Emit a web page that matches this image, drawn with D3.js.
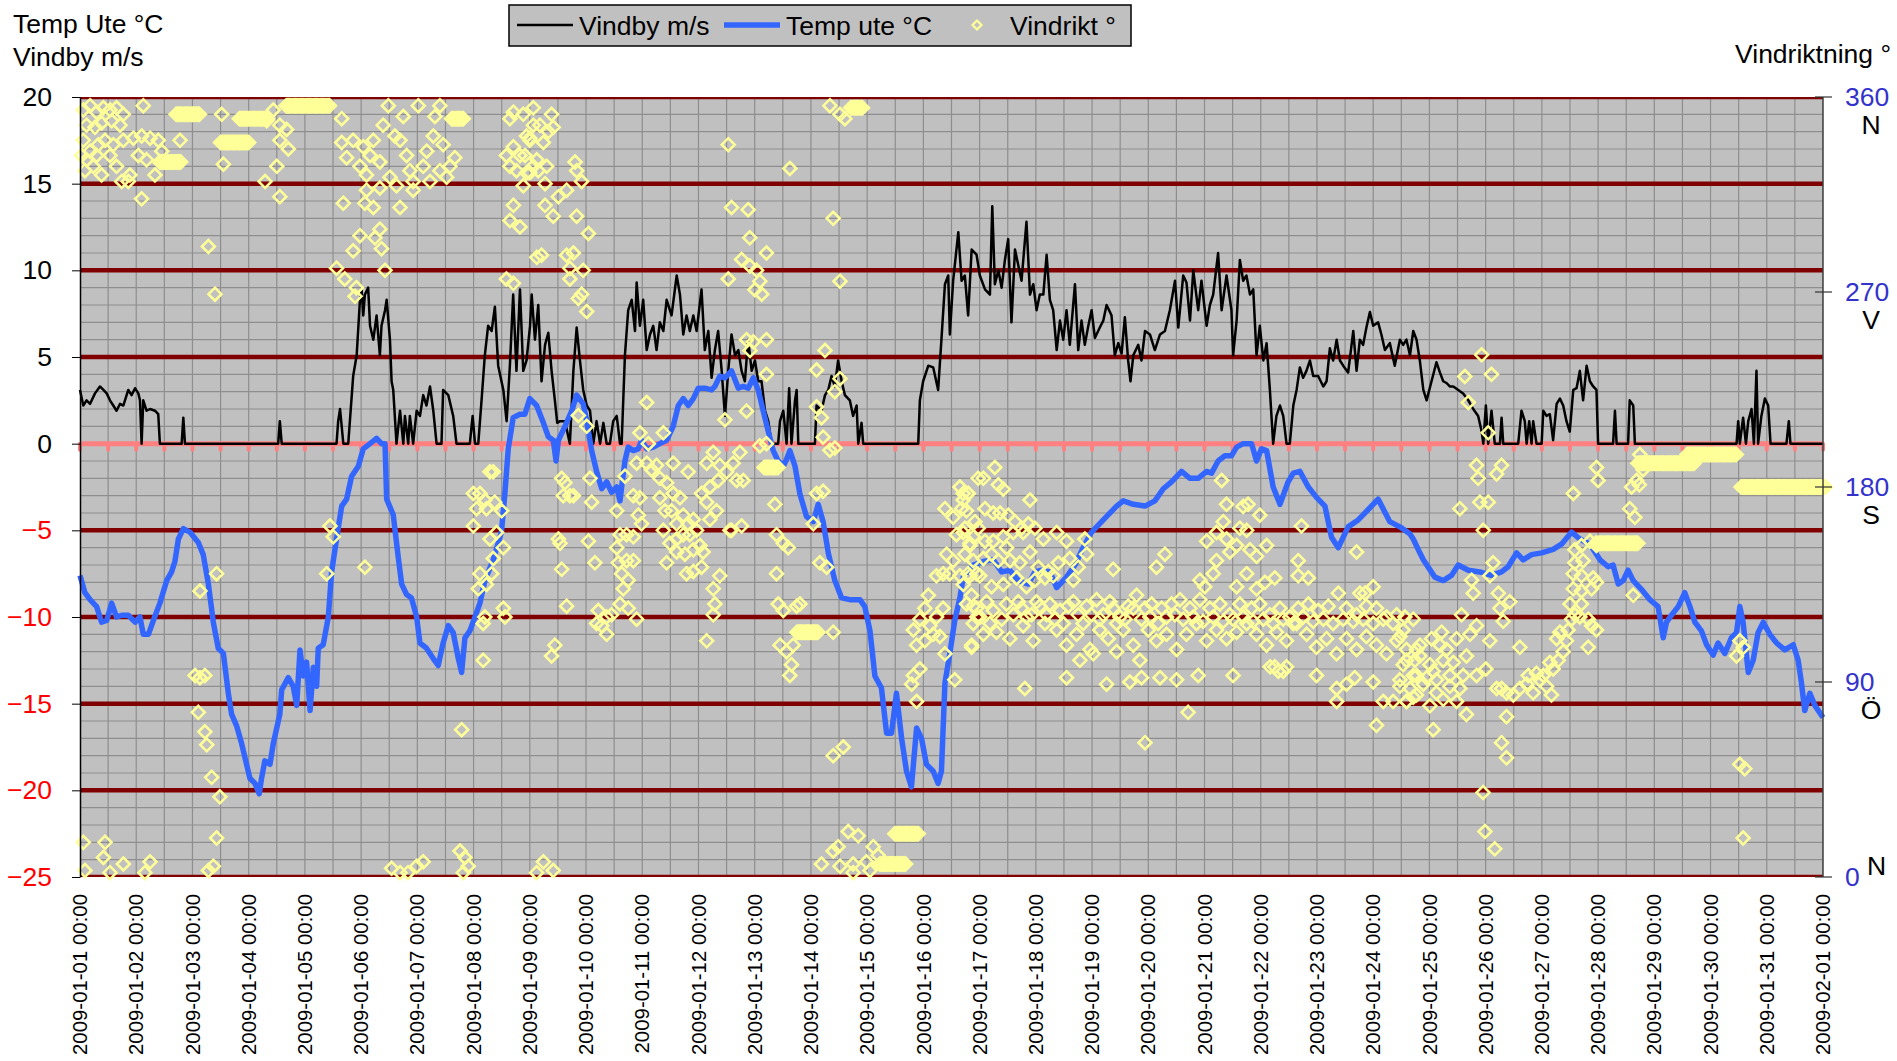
<!DOCTYPE html>
<html>
<head>
<meta charset="utf-8">
<script src="https://cdn.jsdelivr.net/npm/d3@7"></script>
<style>
body { margin: 0; background: #fff; }
text { font-family: "Liberation Sans", Arial, sans-serif; }
</style>
</head>
<body>
<script>
// hours after 2009-01-01 00:00, value
var tempUte = [[0,-7.6],[2.1,-8.6],[4.3,-9.0],[7.1,-9.4],[9.2,-10.3],[11.4,-10.2],[13.5,-9.2],[15.6,-10.0],[17.8,-9.9],[20.6,-9.9],[23.5,-10.3],[25.6,-10.0],[27,-11.0],[29.2,-11.0],[31.3,-10.2],[34.1,-9.2],[37,-7.9],[39.1,-7.4],[40.5,-6.8],[42,-5.5],[44.1,-4.9],[46.9,-5.1],[50.5,-5.7],[52.6,-6.4],[54.8,-8.1],[56.9,-10.3],[59,-11.8],[61.2,-12.1],[63.3,-14.4],[64.7,-15.6],[66.9,-16.3],[69,-17.3],[71.1,-18.5],[72.5,-19.3],[74.7,-19.6],[76.5,-20.2],[77.5,-19.3],[78.9,-18.3],[81.1,-18.5],[82.5,-17.3],[85.3,-15.6],[86.1,-14.2],[88.9,-13.5],[91,-14.0],[92.5,-15.1],[93.9,-11.9],[95.3,-13.4],[96.7,-12.6],[98.2,-15.4],[99.6,-12.9],[101,-14.0],[101.7,-11.8],[103.8,-11.6],[106,-10.0],[107.4,-7.4],[109.5,-5.5],[111.7,-3.6],[113.8,-3.2],[115.9,-1.9],[118.8,-1.3],[120.9,-0.3],[123.8,0],[126.6,0.3],[128.7,0],[130.2,0],[130.9,-3.2],[133.7,-4.1],[135.8,-6.5],[137.3,-8.1],[139.4,-8.7],[141.5,-8.9],[143.7,-10.0],[145.1,-11.5],[147.9,-11.8],[150.8,-12.4],[152.9,-12.8],[155,-11.5],[157.2,-10.5],[159.3,-10.9],[161.5,-12.4],[162.9,-13.2],[164.3,-11.2],[166.4,-10.8],[168.6,-10.0],[170.7,-9.2],[172.8,-7.9],[176.4,-6.7],[179.9,-5.1],[181.4,-2.8],[182.8,-0.3],[184.9,1.5],[187.8,1.7],[189.9,1.7],[192,2.6],[194.9,2.2],[197.8,1.2],[199.9,0.4],[202,0.2],[203.2,-1.0],[204.2,0.2],[207,1.0],[209.9,1.9],[212,2.8],[214.8,2.3],[216.3,1.3],[218.4,-0.4],[220.5,-1.6],[222.7,-2.6],[224.8,-2.2],[226.9,-2.8],[229.1,-2.5],[230.5,-3.3],[231.2,-2.5],[232.6,-1.0],[234,-0.2],[236.2,-0.4],[238.3,-0.3],[239.7,0.2],[241.9,-0.3],[244.7,-0.2],[247.5,0],[250.4,0.2],[253.2,1.0],[255.4,2.2],[257.5,2.6],[259.6,2.2],[261.8,2.6],[263.9,3.2],[266.7,3.2],[269.6,3.1],[271,3.3],[273.1,3.9],[275.3,3.8],[278.1,4.2],[281,3.2],[283.1,3.3],[285.2,3.2],[287.4,3.8],[289.5,3.1],[291.6,1.9],[293.8,0.7],[295.9,-0.4],[298,-1.0],[300.2,-1.3],[301.6,-0.9],[303,-0.4],[305.2,-1.3],[307.3,-2.9],[310.1,-4.2],[313,-4.5],[315.1,-3.5],[317.2,-4.5],[319.4,-6.3],[322.2,-7.9],[325.1,-8.9],[328.6,-9.0],[332.9,-9.0],[335,-9.4],[337.2,-10.8],[339.3,-13.4],[342.1,-14.1],[344.3,-16.7],[346.4,-16.7],[348.5,-14.4],[350.7,-17.0],[352.8,-18.9],[354.9,-19.8],[357.1,-16.4],[359.2,-17.0],[361.3,-18.5],[364.2,-18.9],[366.3,-19.6],[367.7,-18.9],[369.2,-13.8],[371.3,-12.1],[373.4,-10.2],[375.6,-8.9],[377,-7.7],[381.3,-7.0],[385.6,-6.8],[389.8,-6.7],[393.4,-7.4],[396.9,-7.3],[400.5,-7.9],[404.8,-8.1],[407.6,-7.4],[410.5,-7.3],[414,-7.4],[416.9,-8.3],[421.1,-7.7],[424.7,-7.0],[428.2,-6.0],[431.8,-5.1],[436.8,-4.4],[442.5,-3.6],[445.3,-3.3],[449.6,-3.5],[454.6,-3.6],[458.8,-3.3],[462.4,-2.6],[465.9,-2.2],[470.2,-1.6],[473.8,-2.0],[477.3,-2.0],[480.9,-1.6],[483,-1.7],[485.8,-1.0],[488.7,-0.7],[491.5,-0.7],[493.7,-0.2],[496.5,0],[500.1,0],[502.2,-1.0],[504.3,-0.3],[506.5,-0.4],[509.3,-2.5],[512.2,-3.5],[515.7,-2.2],[517.9,-1.7],[520.7,-1.6],[524.3,-2.5],[527.8,-3.1],[531.4,-3.6],[534.2,-5.4],[537.1,-6.0],[541.3,-4.8],[545.6,-4.4],[549.9,-3.8],[554.1,-3.2],[559.1,-4.5],[563.4,-4.8],[567.6,-5.2],[569.1,-5.5],[571.9,-6.3],[573.4,-6.7],[578.3,-7.7],[581.9,-7.9],[585.4,-7.6],[588.3,-7.0],[592.6,-7.3],[597.5,-7.4],[602.5,-7.6],[606.8,-7.4],[609.6,-7.1],[613.2,-6.3],[616,-6.7],[619.6,-6.4],[623.9,-6.3],[628.8,-6.1],[632.4,-5.8],[636.7,-5.1],[640.2,-5.5],[644.5,-5.8],[648.8,-6.7],[652.3,-7.1],[654.4,-7.0],[656.6,-8.1],[658.7,-7.9],[660.8,-7.3],[663,-7.9],[666.5,-8.4],[670.1,-9.0],[673.6,-9.4],[675.8,-11.2],[677.2,-10.3],[679.3,-9.9],[682.2,-9.4],[685,-8.6],[687.2,-9.4],[689.3,-10.3],[692.1,-10.8],[694.3,-11.6],[697.1,-12.2],[699.2,-11.5],[702.1,-12.1],[704.9,-11.2],[707.1,-10.9],[708.5,-9.4],[709.9,-10.3],[712.1,-13.2],[714.2,-12.5],[716.3,-10.9],[718.5,-10.3],[721.3,-11.0],[724.2,-11.5],[727.7,-11.9],[731.3,-11.6],[733.4,-12.5],[734.8,-13.8],[736.2,-15.4],[738.4,-14.4],[740.5,-15.1],[744,-15.8]];

var vindby = [[0,3.1],[1.4,2.2],[2.8,2.5],[4.3,2.3],[6.4,2.9],[8.5,3.3],[10,3.1],[11.4,2.9],[12.8,2.5],[14.2,2.2],[15.6,1.9],[17.1,2.3],[18.5,2.2],[20.6,3.1],[22,2.8],[23.5,3.2],[24.9,2.9],[25.6,2.5],[26.3,0],[27,2.5],[28.4,1.9],[29.9,2.0],[32,1.9],[33.4,1.7],[34.1,0],[43.4,0],[44.1,1.5],[44.8,0],[84.6,0],[85.3,1.3],[86.1,0],[109.5,0],[110.2,1.3],[111,2.0],[112.4,0],[114.5,0],[115.2,1.3],[116.6,3.9],[118.1,5.1],[119.5,8.3],[120.2,8.9],[120.9,7.4],[121.6,8.6],[123,9.0],[123.8,6.8],[125.2,6.0],[126.6,7.4],[128,5.1],[128.7,6.8],[130.2,7.7],[130.9,8.3],[132.3,6.0],[133,3.6],[133.7,3.1],[135.1,0],[136.6,1.9],[138,0],[138.7,1.6],[140.1,0],[140.8,1.6],[142.2,0],[143.7,1.9],[145.1,1.6],[146.5,2.8],[147.9,2.2],[149.4,3.3],[150.8,1.9],[152.2,0],[154.3,0],[155,3.1],[157.2,2.8],[159.3,1.6],[160.7,0],[166.4,0],[167.6,1.6],[168.6,0],[170,0],[171.4,2.5],[172.8,5.1],[174.2,6.8],[175.7,6.5],[177.1,7.9],[178.5,4.5],[180.7,3.1],[182.1,1.3],[183.5,4.5],[184.9,8.6],[186.3,4.2],[187.8,8.9],[189.2,4.2],[190.6,4.8],[192.1,6.8],[192.8,8.6],[194.2,6.0],[195.6,8.0],[197,3.6],[198.5,5.7],[199.9,6.4],[201.3,4.2],[202.7,2.5],[203.7,1.2],[204.9,1.3],[207,1.3],[209.1,0],[210.6,4.2],[212,6.7],[213.4,4.8],[214.8,3.1],[216.3,2.2],[217.7,1.9],[219.1,0],[220.5,1.3],[222,0],[223.4,1.2],[224.8,0],[226.2,0],[227.6,1.3],[229.1,1.6],[230.5,0],[231.2,0],[232.6,5.1],[234,7.7],[235.5,8.3],[236.9,6.5],[237.6,9.3],[239,6.8],[240.4,8.3],[241.9,5.4],[243.3,6.3],[244.7,6.8],[246.1,5.4],[247.5,7.0],[249,6.5],[250.4,8.3],[252.5,7.4],[254.7,9.7],[256.1,8.6],[257.5,6.3],[258.9,7.4],[260.3,6.5],[261.8,7.4],[263.2,6.5],[265.3,8.9],[266.7,5.4],[268.2,6.5],[269.6,3.8],[271,5.4],[272.4,6.5],[273.9,4.2],[275.3,1.6],[276.7,4.2],[278.1,6.3],[279.6,5.1],[281,5.4],[282.4,4.2],[283.8,3.6],[285.2,6.0],[286.7,4.2],[288.1,4.8],[289.5,3.6],[290.9,3.6],[292.4,1.9],[293.8,1.3],[295.2,0],[298,0],[298.8,1.3],[300.2,1.9],[301.6,0],[302.7,3.2],[303.7,0],[305.2,2.5],[305.9,3.1],[306.6,0],[313.7,0],[314.4,2.2],[316.5,1.9],[318,2.8],[319.4,3.1],[320.8,3.9],[322.2,3.3],[323.6,4.8],[325.1,3.6],[326.5,2.8],[328.6,2.5],[330,1.6],[331.5,2.2],[332.2,0],[333.6,1.2],[334.3,0],[357.8,0],[358.5,2.5],[359.9,3.6],[362.1,4.5],[364.2,4.4],[366.3,3.1],[367.7,6.0],[369.2,9.2],[370.6,9.7],[371.3,6.3],[372.7,9.4],[374.9,12.2],[376.3,9.4],[377.7,9.7],[379.1,7.4],[380.6,11.2],[382.7,10.9],[384.1,9.7],[386.3,8.9],[388.4,8.6],[389.4,13.7],[390.5,9.2],[392,10.0],[393.4,9.0],[394.8,10.6],[396.2,11.8],[397.6,7.0],[399.1,11.2],[400.5,10.3],[401.9,9.4],[404,12.8],[405.5,8.6],[406.9,9.2],[408.3,7.7],[409.7,8.6],[411.2,8.6],[412.6,10.9],[414,8.3],[415.4,7.7],[416.9,5.4],[418.3,7.1],[419.7,6.0],[421.1,7.7],[422.5,5.7],[424.7,9.2],[426.1,5.4],[427.5,7.1],[428.9,5.7],[430.4,6.8],[431.8,7.7],[433.2,6.1],[435.3,6.7],[436.8,7.1],[438.2,8.0],[440.3,7.4],[441.7,5.1],[443.2,5.8],[444.6,5.2],[446,7.3],[447.4,4.8],[448.4,3.6],[449.6,5.1],[451.7,5.7],[453.1,4.8],[454.6,6.5],[456.7,6.3],[458.8,5.4],[461,6.3],[463.1,6.5],[465.2,7.7],[467.4,9.4],[468.8,6.7],[470.9,9.7],[472.3,9.3],[473.8,7.1],[475.2,10.0],[477.3,7.7],[478.7,9.4],[480.9,6.8],[482.3,8.0],[483.7,8.6],[485.8,11.0],[487.3,7.7],[489.4,9.7],[491.5,7.7],[492.2,5.1],[493.7,7.1],[495.1,10.6],[496.5,9.4],[497.9,9.7],[499.4,8.6],[500.8,8.9],[502.2,5.1],[503.6,6.8],[505.1,4.8],[506.5,5.8],[507.9,3.1],[509.3,0],[510.7,1.6],[512.2,2.2],[513.6,1.6],[515,0],[516.4,0],[517.9,2.2],[519.3,3.1],[520.7,4.4],[522.1,3.8],[523.5,4.2],[525,4.8],[526.4,3.9],[528.5,3.9],[530.7,3.3],[532.1,3.6],[533.5,5.5],[534.9,4.8],[536.4,6.0],[537.8,4.8],[539.2,4.5],[541.3,4.1],[543.5,6.5],[544.9,4.2],[546.3,6.0],[547.7,5.7],[549.1,6.7],[550.6,7.6],[552,6.8],[554.1,7.0],[555.5,6.3],[557,5.4],[559.1,5.8],[561.2,4.5],[563.4,6.0],[564.8,5.7],[566.2,6.0],[567.7,5.1],[569.1,6.5],[570.5,6.0],[571.9,4.8],[573.4,3.1],[574.8,2.5],[576.9,3.6],[579,4.7],[580.5,4.1],[581.9,3.6],[583.3,3.5],[584.7,3.3],[586.2,3.3],[588.3,3.1],[590.4,2.9],[592.6,2.5],[594.7,2.0],[596.8,1.6],[598.3,0.7],[599,0],[600.1,2.2],[601.1,0],[602.5,1.9],[603.9,0],[606.1,0],[606.8,1.5],[607.5,0],[613.9,0],[615.3,1.9],[616.7,1.3],[617.5,0],[618.6,1.3],[619.6,0],[620.3,1.3],[621.7,0],[623.9,0],[624.6,1.9],[626,1.6],[627.4,1.7],[628.8,0.2],[630.3,2.3],[631.7,2.6],[633.1,2.2],[634.5,1.3],[635.9,0.7],[637.4,3.1],[638.8,3.2],[640.2,4.2],[641.6,2.5],[643.1,4.5],[644.5,3.6],[645.9,3.3],[647.3,3.1],[648,0],[654.4,0],[655.2,1.9],[655.9,0],[660.8,0],[661.5,2.5],[663,2.2],[663.7,0],[707.1,0],[707.8,1.3],[708.5,0],[709.9,1.5],[711.1,0],[712.1,1.3],[713.5,2.0],[714.5,0],[715.6,4.2],[716.3,0],[717.7,1.6],[719.2,2.6],[720.6,2.2],[721.6,0],[728.4,0],[729.4,1.3],[730.1,0],[744,0]];

// single readings of wind direction, [hour, degrees]
var vindrikt = [[1.4,354],[4.3,356],[7.1,353],[10,355],[12.8,354],[15.6,355],[18.5,352],[2.8,347],[6.4,346],[9.2,348],[13.5,349],[17.1,347],[1.4,340],[4.3,335],[7.8,338],[10.7,340],[14.2,338],[18.5,340],[22.8,341],[26.3,342],[29.9,341],[33.4,340],[2.8,331],[5.7,328],[9.2,324],[12.8,333],[15.6,328],[17.8,321],[21.3,324],[24.9,333],[28.4,331],[32,324],[34.9,335],[0.7,333],[2.1,326],[7.1,333],[20.6,321],[26.3,313],[27,356],[42.7,340],[54.8,291],[57.6,269],[60.5,352],[61.2,329],[79,321],[85.3,314],[84,328],[79.7,349],[82.5,354],[85.3,347],[88.2,345],[85.3,340],[88.9,336],[69.7,350],
[111.7,350],[111.7,339],[113.8,332],[112.4,311],[109.5,281],[113,276],[116.6,289],[119.5,296],[121.6,311],[122.3,317],[125.2,309],[128,299],[125.9,295],[128.7,290],[130.2,280],[118,272],[117.4,268],[116.6,340],[120.9,337],[123.8,333],[125.2,340],[128,330],[122.3,324],[119.5,328],[131.6,356],[129.4,347],[134.4,342],[138,351],[136.6,340],[139.4,333],[140.8,326],[136.6,309],[142.2,317],[144.4,356],[148,335],[150.8,342],[153.6,356],[151.5,351],[155,338],[157.9,328],[156.5,323],[153.6,326],[149.4,321],[146.5,328],[142.2,321],[135.1,319],[132.3,323],[128,318],[160,332],
[183.5,350],[185,353],[190.6,342],[193.5,347],[182,333],[185,337],[187.8,333],[192,340],[195,331],[183.5,328],[186.3,326],[189.2,319],[190.6,325],[185,310],[183.5,303],[187.8,300],[195,286],[182,276],[185,274],
[175,187],[176.4,187],[167.9,177],[170.7,177],[172.8,174],[169.3,170],[173.5,170],[177,173],[180,169],[167.9,162],[175,156],[177.8,159],[180.7,152],[176.4,147],[170.7,140],[175.7,140],[173.5,135],[170,133],[172.8,120],[172.1,117],[180.7,124],[181.4,120],[172.1,100],[162.9,68],[106.7,162],[108.1,157],[105.3,140],[121.6,143],[58.3,140],[51.2,132],[49.1,93],[51.2,92],[53.3,93],[50.5,76],[53.3,67],[54.1,61],[56.2,46],[59.7,37],[58.3,18],
[1.4,16],[10.7,16],[10,9],[18.5,6],[29.9,7],[27.7,2],[12.8,2],[2.1,3],[54.8,3],[56.9,5],[133,4],[136.6,2],[143.7,5],[146.5,7],[162.2,12],[164.3,9],[165.7,5],[163.6,2],[140,2],
[189.2,352],[193.5,355],[201.3,352],[202,346],[196.3,347],[192,341],[197.8,339],[199.9,344],[189.9,333],[193.5,328],[192,325],[195.6,326],[199.2,328],[211.3,330],[212,326],[214.1,321],[198.5,320],[207.7,317],[204.2,314],[198.5,310],[202,305],[212,305],[217,297],[197,287],[207.7,287],[210.6,288],[209.1,281],[214.8,280],[209.1,276],[214.1,269],[212.7,267],[216.3,261],
[276.7,338],[303,327],[278.1,309],[285.2,308],[285.9,295],[293,288],[321.5,304],[282.4,285],[285.9,282],[288.8,280],[290.2,275],[288.1,271],[291,269],[276.7,276],[324.4,275],[320.1,356],[324.4,352],[326.5,350],
[284.5,248],[287.4,247],[293,248],[286,243],[318,243],[314.4,234],[293,232],[324.4,230],[322.2,224],[314.4,217],[316.5,212],[241.9,219],[212.7,213],[216.3,208],[275.3,211],[284.5,215],[317.2,203],[320.1,197],[322.2,198],[293,200],[290.2,199],
[239,205],[242.6,200],[249,205],[237.6,191],[232.6,185],[241.9,191],[244,188],[246.1,190],[247.5,184],[253.2,191],[259.6,187],[267.5,191],[270.3,196],[273.1,190],[276,187],[278.8,191],[281.7,196],[280.3,183],[283.1,183],[272.4,183],[268.9,180],[265.3,177],[267.5,173],[271.7,169],[268.9,165],[278.1,160],[282.4,162],[296.6,172],[297.3,158],[300.2,154],[302.3,152],[297.3,140],[298,126],[300.2,123],[305.9,125],[307.3,126],[321.5,113],[298.8,107],[301.6,104],[304.4,107],[303.7,98],[303,93],[314.4,177],[317.2,178],[313,163],[315.8,145],[318.7,143],[321.5,56],[325.8,60],
[209.1,176],[205.6,184],[207,182],[206.3,176],[210.6,176],[217.7,184],[218.4,173],[204.2,156],[204.9,154],[205.6,142],[217,155],[219.8,145],[207.7,125],[202.7,107],[201.3,102],
[229.1,169],[230.5,158],[229.1,152],[233.3,158],[236.2,157],[236.2,176],[239,175],[238.3,167],[239.7,163],[229.8,145],[233.3,146],[236.2,146],[231.2,140],[234,137],[231.9,133],[221.2,123],[224.8,120],[226.9,121],[230.5,126],[234,124],[237.6,119],[222.7,116],[224.8,112],[220.5,117],
[250.4,182],[253.2,177],[256.1,175],[247.5,175],[249.7,169],[252.5,169],[254.7,163],[257.5,167],[259.6,163],[261.8,165],[263.2,160],[260.3,158],[257.5,158],[254.7,156],[251.8,154],[249,160],[250.4,145],[254.7,150],[258.2,149],[261.8,151],[264.6,153],[266,150],[258.9,140],[261.8,141],[265.3,143],[270.3,133],[273.1,139],[271,126],[270.3,121],[267.5,109],[277.4,160],
[197.8,7],[202,3],[194.9,2],[327.9,21],[332.2,19],[323.6,14],[321.5,12],[316.5,6],[324.4,5],[330,6],[335.7,7],[338.6,14],[340.7,10],[330,2],[337.2,3],
[355,89],[357.1,81],[355.7,93],[358.5,96],[358.5,119],[360.6,124],[362.1,130],[355.7,114],[357.1,107],[360.6,109],[364.2,112],[367,111],[362.8,116],[365.6,120],[368.4,124],[365.6,139],[368.4,140],[371.3,140],[369.9,149],[372.7,146],[369.2,103],[373.4,91],[369.2,170],[372.7,166],[375.6,180],[377,174],[379.1,177],[374.1,158],[377.7,161],[379.8,153],[381.3,157],[379.1,140],[382.8,140],[377,135],[381.3,125],[380.6,107],[382.8,120],[383.4,184],
[377,177],[379.1,177],[376.3,170],[378.4,169],[385.6,184],[390.5,189],[392,181],[394.1,179],[405.5,174],[377,159],[379.9,154],[382,164],[383.4,161],[386.3,170],[389.8,168],[392.7,168],[396.2,167],[399.1,164],[401.9,161],[404.8,163],[407.6,161],[411.2,156],[402.6,159],[398.4,159],[394.1,157],[389.8,155],[386.3,155],[421.1,155],[416.9,159],
[377.7,149],[381.3,146],[385.6,147],[389.1,149],[392,146],[395.5,152],[397,146],[401.2,145],[405.5,150],[409,143],[413.3,141],[417.6,145],[422.5,147],[426.1,143],[429.7,149],[428.9,156],[375.6,139],[379.9,139],[384.1,139],[389.1,134],[394.1,135],[399.8,138],[404,134],[407.6,137],[411.9,138],[415.4,139],[424,137],[441,142],[463.1,149],[459.5,143],
[378.4,126],[382.7,124],[387,127],[389.8,123],[395.5,126],[398.4,121],[401.9,124],[406.2,121],[409.7,125],[414,126],[418.3,123],[421.8,125],[426.1,121],[429.7,125],[433.9,128],[436.8,121],[441,124],[443.9,120],[447.4,125],[451,130],[454.6,124],[457.4,126],[461.7,124],[465.9,126],[469.5,128],[473.8,124],[478,128],[482.3,124],[486.6,126],[490.8,121],[495.1,126],[500.1,124],[503.6,126],[507.9,121],[512.2,124],[516.4,120],[520,124],[524.3,126],[528.5,123],[532.8,125],[537.1,131],[540.6,124],[544.9,121],[549.1,125],[553.4,124],[557.7,120],[562,121],[565.5,120],
[380.6,130],[384.1,120],[388.4,117],[393.4,119],[400.5,127],[404,120],[408.3,127],[412.6,121],[416.1,119],[419.7,117],[424,127],[428.2,117],[431.8,121],[435.3,119],[439.6,127],[442.5,117],[446,119],[449.6,124],[453.1,119],[456.7,120],[460.2,117],[463.8,120],[467.4,121],[470.9,119],[475.2,120],[479.4,118],[483.7,120],[488,118],[492.2,119],[496.5,120],[500.8,118],[505.1,119],[509.3,117],[513.6,119],[517.9,117],[522.1,120],[526.4,118],[530.7,119],[534.9,117],[539.2,119],[543.5,118],[547.7,119],[552,117],[556.3,119],[560.5,117],[564.8,114],[569.1,119],
[381.3,117],[385.6,112],[391.2,113],[396.9,110],[402.6,116],[406.9,109],[411.9,117],[416.9,114],[421.1,107],[425.4,112],[431.1,105],[435.3,114],[438.9,110],[442.5,104],[445.3,114],[449.6,107],[452.4,100],[456,114],[459.5,109],[463.8,112],[468.1,105],[472.3,112],[476.6,117],[480.9,109],[485.1,114],[489.4,110],[493.7,113],[498,117],[502.2,112],[506.5,107],[510.7,113],[515,109],[519.3,117],[523.6,112],[527.8,106],[532.1,110],[536.4,103],[540.6,110],[544.9,105],[549.1,111],[553.4,107],[557.7,103],[562,109],[566.2,100],[570.5,105],
[380.6,106],[403.3,87],[421.1,92],[426.8,100],[432.5,103],[438.2,89],[448.1,90],[453.1,92],[454.6,62],[461,92],[468.1,91],[473,76],[477.3,93],[492.2,93],[508,97],[510,97],[511.5,95],[513.6,95],[515,97],[527.8,93],[536.4,87],[536.4,81],[540.6,89],[544.1,92],[552,90],[553.4,70],[556.3,81],[560.5,81],[563.4,88],[566.2,81],[569.1,83],[570.5,93],
[487.3,183],[489.4,172],[496.5,171],[498.6,172],[503.6,167],[495.1,161],[498,160],[488,164],[485.1,159],[489.4,156],[480.9,155],[493.7,153],[490.8,150],[485.1,146],[499.4,151],[502.2,148],[506.5,153],[521.4,162],[544.9,150],[520,146],[524.3,138],[520,139],[510,138],[505.8,136],[502.2,133],[498,140],[493.7,134],[483.7,140],[480.1,134],[478,137],[546.3,131],[552,134],[548.5,131],
[598.3,241],[591.1,231],[602.5,232],[592.6,219],[601.1,205],[596.1,190],[596.8,184],[604.7,186],[606.8,190],[589,170],[597.5,173],[601.1,173],[599,160],[603.2,145],[601.8,139],[594,137],[594.7,131],[605.4,131],[610.3,127],[606.1,124],[607.5,118],[589.7,121],[593.3,112],[596.1,116],[601.8,109],[581.2,113],[576.9,110],[580.5,107],[614.6,106],[563.4,111],[566.2,105],[571.9,102],[576.2,98],[581.9,100],[586.2,99],[591.8,102],[564.8,98],[569.1,93],[574.8,92],[579,91],[584.7,93],[589,87],[570.5,84],[576.2,79],[581.9,82],[587.6,81],[591.8,75],[577.6,68],[563.4,91],[566.2,81],[596.1,93],[600.1,96],[604.7,87],[598.9,39],[599.7,21],[603.9,13],[608.9,74],[606.8,62],[608.9,55],[606.8,87],
[567.7,87],[573.4,89],[579,85],[584.7,88],[590.4,93],[569.8,100],[583.3,105],[587.6,110],[571.9,107],[577.6,95],
[608.9,85],[611.8,84],[614.6,87],[617.5,89],[620.3,85],[623.1,91],[626,88],[628.1,84],[618.2,93],[621.7,94],[624.6,93],[628.8,96],[631,100],[627.4,99],[633.1,104],[634.5,109],[630.3,110],[631.7,113],[635.2,114],[636.7,119],[638.1,121],[640.2,120],[643.8,119],[645.2,116],[647.3,114],[643.8,106],[636,126],[640.9,126],[637.4,133],[640.9,132],[645.2,133],[637.4,140],[640.9,139],[645.9,138],[638.1,145],[641.6,146],[638.1,151],[640.9,153],[644.5,155],[647.3,136],[647.3,153],[637.4,177],[647.3,189],[648,183],[663,130],
[661.5,170],[663.7,166],[662.3,180],[664.4,183],[665.6,181],[667.2,188],[665.8,195],[708.5,109],[707.1,102],[710,106],[708.5,52],[710.6,50],[709.9,18]];

// calm spells where the vane kept one reading: [from hour, to hour, degrees]
var vindriktRuns = [[34,43,330],[41,51,352],[60,72,339],[68,80,350],[88,106.5,356],[158.6,164,350],[292,298,189],[306,315,113],[329,334,355],[341.4,352.8,6],[347.8,357.8,20],[647,665,154],[665,689,191],[686,707,195],[709,745,180]];

var leftTicks = [20, 15, 10, 5, 0, -5, -10, -15, -20, -25];
var rightTicks = [360, 270, 180, 90, 0];
var compass = ["N", "V", "S", "Ö", "N"];
var legendItems = ["Vindby m/s", "Temp ute °C", "Vindrikt °"];

var W = 1897, H = 1061;
var margin = {top: 97, right: 74, bottom: 184, left: 80},
    width = W - margin.left - margin.right,
    height = H - margin.top - margin.bottom;

var t0 = Date.UTC(2009, 0, 1);
function toDate(h) { return new Date(t0 + h * 3600000); }

var svg = d3.select("body").append("svg")
    .attr("width", W)
    .attr("height", H);

var g = svg.append("g")
    .attr("transform", "translate(" + margin.left + "," + margin.top + ")");

var x = d3.scaleUtc().domain([toDate(0), toDate(744)]).range([0, width]);
var y = d3.scaleLinear().domain([-25, 20]).range([height, 0]);
var yR = d3.scaleLinear().domain([0, 360]).range([height, 0]);

svg.append("defs").append("clipPath").attr("id", "plot")
    .append("rect").attr("width", width).attr("height", height);

// plot area
g.append("rect")
    .attr("width", width)
    .attr("height", height)
    .attr("fill", "#c0c0c0");

var grid = g.append("g").attr("clip-path", "url(#plot)");

grid.selectAll(".hminor")
    .data(y.ticks(45))
    .enter().append("line")
    .attr("x1", 0).attr("x2", width)
    .attr("y1", function(d) { return y(d); })
    .attr("y2", function(d) { return y(d); })
    .attr("stroke", "#8e8e8e")
    .attr("stroke-width", 1.2);

grid.selectAll(".vminor")
    .data(x.ticks(d3.utcHour.every(12)))
    .enter().append("line")
    .attr("x1", function(d) { return x(d); })
    .attr("x2", function(d) { return x(d); })
    .attr("y1", 0).attr("y2", height)
    .attr("stroke", "#8e8e8e")
    .attr("stroke-width", 1.2);

grid.selectAll(".hmajor")
    .data(leftTicks.filter(function(d) { return d != 0; }))
    .enter().append("line")
    .attr("x1", 0).attr("x2", width)
    .attr("y1", function(d) { return y(d); })
    .attr("y2", function(d) { return y(d); })
    .attr("stroke", "#800000")
    .attr("stroke-width", 4.5);

// x axis crossing at 0
g.selectAll(".xtick")
    .data(x.ticks(d3.utcHour.every(12)))
    .enter().append("line")
    .attr("x1", function(d) { return x(d); })
    .attr("x2", function(d) { return x(d); })
    .attr("y1", y(0)).attr("y2", y(0) + 6)
    .attr("stroke", "#ff8080")
    .attr("stroke-width", 4)
    .attr("stroke-linecap", "round");

g.append("line")
    .attr("x1", 0).attr("x2", width)
    .attr("y1", y(0)).attr("y2", y(0))
    .attr("stroke", "#ff8080")
    .attr("stroke-width", 5);

// series
var valueLine = d3.line()
    .x(function(d) { return x(toDate(d[0])); })
    .y(function(d) { return y(d[1]); });

g.append("path")
    .datum(vindby)
    .attr("d", valueLine)
    .attr("fill", "none")
    .attr("stroke", "#000")
    .attr("stroke-width", 2.5)
    .attr("stroke-linejoin", "round");

g.append("path")
    .datum(tempUte)
    .attr("d", valueLine)
    .attr("fill", "none")
    .attr("stroke", "#3366ff")
    .attr("stroke-width", 5.5)
    .attr("stroke-linejoin", "round");

var diamond = "M0,-6.5L6.5,0L0,6.5L-6.5,0Z";

var runPoints = [];
vindriktRuns.forEach(function(r) {
    for (var h = r[0]; h <= r[1]; h += 0.5) runPoints.push([h, r[2]]);
});

g.append("g").selectAll("path")
    .data(vindrikt.concat(runPoints))
    .enter().append("path")
    .attr("d", diamond)
    .attr("transform", function(d) {
        return "translate(" + x(toDate(d[0])) + "," + yR(d[1]) + ")";
    })
    .attr("fill", "none")
    .attr("stroke", "#ffff99")
    .attr("stroke-width", 2.5);

// left axis
var yAxis = g.append("g")
    .call(d3.axisLeft(y).tickValues(leftTicks).tickSize(8).tickSizeOuter(0).tickPadding(20));
yAxis.select(".domain").attr("stroke", "#000").attr("stroke-width", 1.5);
yAxis.selectAll("text")
    .attr("font-size", "26.5px")
    .attr("font-family", "Liberation Sans, Arial, sans-serif")
    .attr("fill", function(d) { return d < 0 ? "#ff0000" : "#000"; });

// right axis
g.append("line")
    .attr("x1", width).attr("x2", width)
    .attr("y1", 0).attr("y2", height)
    .attr("stroke", "#404040")
    .attr("stroke-width", 1.5);

g.selectAll(".rtick")
    .data(rightTicks)
    .enter().append("line")
    .attr("x1", width - 8).attr("x2", width + 9)
    .attr("y1", function(d) { return yR(d); })
    .attr("y2", function(d) { return yR(d); })
    .attr("stroke", "#333")
    .attr("stroke-width", 1.2);

g.selectAll(".rlabel")
    .data(rightTicks)
    .enter().append("text")
    .attr("x", width + 22)
    .attr("y", function(d) { return yR(d); })
    .attr("dy", "0.35em")
    .attr("font-size", "26.5px")
    .attr("fill", "#3333cc")
    .text(function(d) { return d; });

g.selectAll(".compass")
    .data(compass)
    .enter().append("text")
    .attr("x", function(d, i) { return i == 4 ? width + 44 : width + 48; })
    .attr("y", function(d, i) { return i == 4 ? yR(rightTicks[i]) - 2 : yR(rightTicks[i]) + 37; })
    .attr("text-anchor", function(d, i) { return i == 4 ? "start" : "middle"; })
    .attr("font-size", "26.5px")
    .attr("fill", "#000")
    .text(function(d) { return d; });

// date labels under the plot
var fmt = d3.utcFormat("%Y-%m-%d %H:%M");
g.selectAll(".xlabel")
    .data(x.ticks(d3.utcDay.every(1)))
    .enter().append("text")
    .attr("transform", function(d) {
        return "translate(" + x(d) + "," + (height + 17) + ") rotate(-90)";
    })
    .attr("text-anchor", "end")
    .attr("dy", "0.35em")
    .attr("font-size", "20.4px")
    .attr("fill", "#000")
    .text(function(d) { return fmt(d); });

// axis titles
svg.append("text").attr("x", 13).attr("y", 33).attr("font-size", "26.5px").text("Temp Ute °C");
svg.append("text").attr("x", 13).attr("y", 66).attr("font-size", "26.5px").text("Vindby m/s");
svg.append("text").attr("x", 1891).attr("y", 63).attr("text-anchor", "end")
    .attr("font-size", "26.5px").text("Vindriktning °");

// legend
var lg = svg.append("g");
lg.append("rect")
    .attr("x", 509).attr("y", 5)
    .attr("width", 622).attr("height", 41)
    .attr("fill", "#c0c0c0")
    .attr("stroke", "#000")
    .attr("stroke-width", 1.5);
lg.append("line").attr("x1", 517).attr("x2", 573).attr("y1", 25).attr("y2", 25)
    .attr("stroke", "#000").attr("stroke-width", 2.5);
lg.append("line").attr("x1", 724).attr("x2", 780).attr("y1", 25).attr("y2", 25)
    .attr("stroke", "#3366ff").attr("stroke-width", 5.5);
lg.append("path").attr("d", "M0,-4.5L4.5,0L0,4.5L-4.5,0Z")
    .attr("transform", "translate(977,25)")
    .attr("fill", "none").attr("stroke", "#ffff99").attr("stroke-width", 2.2);
lg.selectAll(".ltext")
    .data(legendItems)
    .enter().append("text")
    .attr("x", function(d, i) { return [579, 786, 1010][i]; })
    .attr("y", 35)
    .attr("font-size", "26.5px")
    .attr("fill", "#000")
    .text(function(d) { return d; });
</script>
</body>
</html>
